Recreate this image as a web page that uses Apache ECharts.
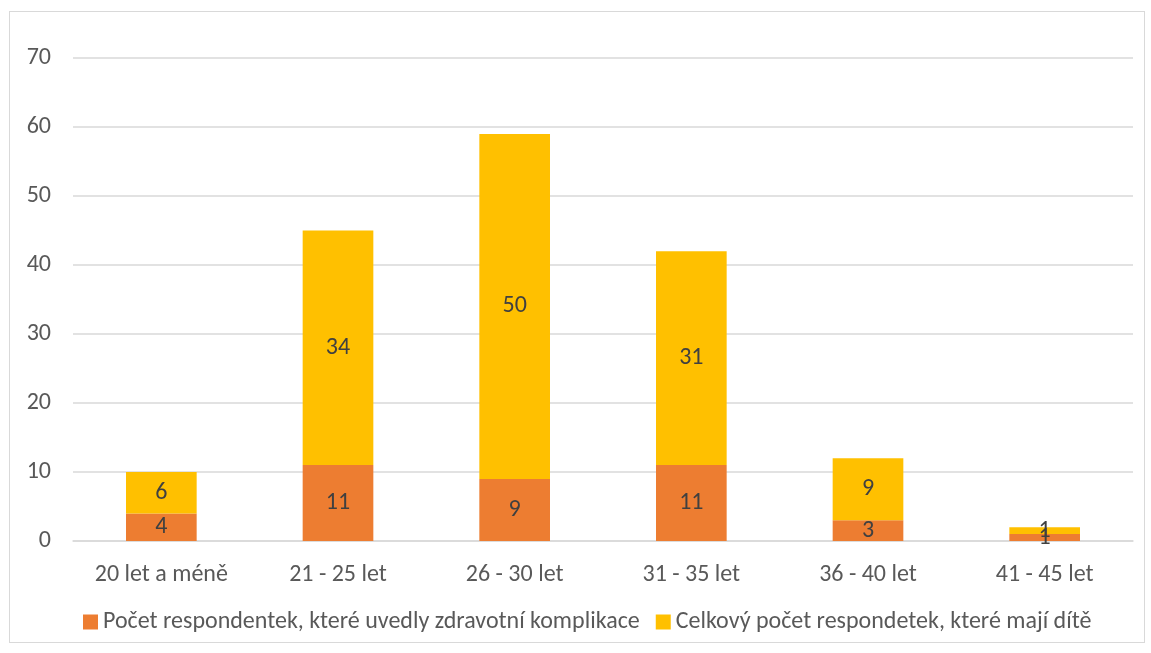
<!DOCTYPE html>
<html><head><meta charset="utf-8">
<script src="https://cdn.jsdelivr.net/npm/echarts@6/dist/echarts.min.js"></script>
<style>html,body{margin:0;padding:0;background:#fff}#c{width:1151px;height:653px}
#frame{position:absolute;left:9px;top:11px;width:1136px;height:632px;border:1px solid #d9d9d9;box-sizing:border-box;pointer-events:none}</style>
</head><body><div id="c"></div><div id="frame"></div>
<script>
const categories = ['20 let a méně','21 - 25 let','26 - 30 let','31 - 35 let','36 - 40 let','41 - 45 let'];
const complications = [4, 11, 9, 11, 3, 1];
const totalMothers = [6, 34, 50, 31, 9, 1];
const seriesNames = ['Počet respondentek, které uvedly zdravotní komplikace','Celkový počet respondetek, které mají dítě'];
const font = "Calibri, Carlito, Lato, sans-serif";
const chart = echarts.init(document.getElementById('c'));
const lbl = {show:true, position:'inside', color:'#404040', fontSize:24, fontFamily:font};
chart.setOption({
  animation:false,
  grid:{left:73, right:18, top:58, bottom:112},
  legend:{bottom:14, left:78, itemWidth:15, itemHeight:15, itemGap:16,
    textStyle:{color:'#595959', fontSize:24, fontFamily:font}, icon:'rect'},
  xAxis:{type:'category', data:categories,
    axisLine:{lineStyle:{color:'#d9d9d9', width:1.5}}, axisTick:{show:false},
    axisLabel:{color:'#595959', fontSize:24, fontFamily:font, margin:22}},
  yAxis:{type:'value', min:0, max:70, interval:10,
    splitLine:{lineStyle:{color:'#d9d9d9', width:1.5}},
    axisLabel:{color:'#595959', fontSize:24, fontFamily:font, margin:22}},
  series:[
    {name:seriesNames[0], type:'bar', stack:'a', data:complications, barWidth:'40%',
     itemStyle:{color:'#ED7D31'}, label:lbl},
    {name:seriesNames[1], type:'bar', stack:'a', data:totalMothers, barWidth:'40%',
     itemStyle:{color:'#FFC000'}, label:lbl}
  ]
});
</script></body></html>
